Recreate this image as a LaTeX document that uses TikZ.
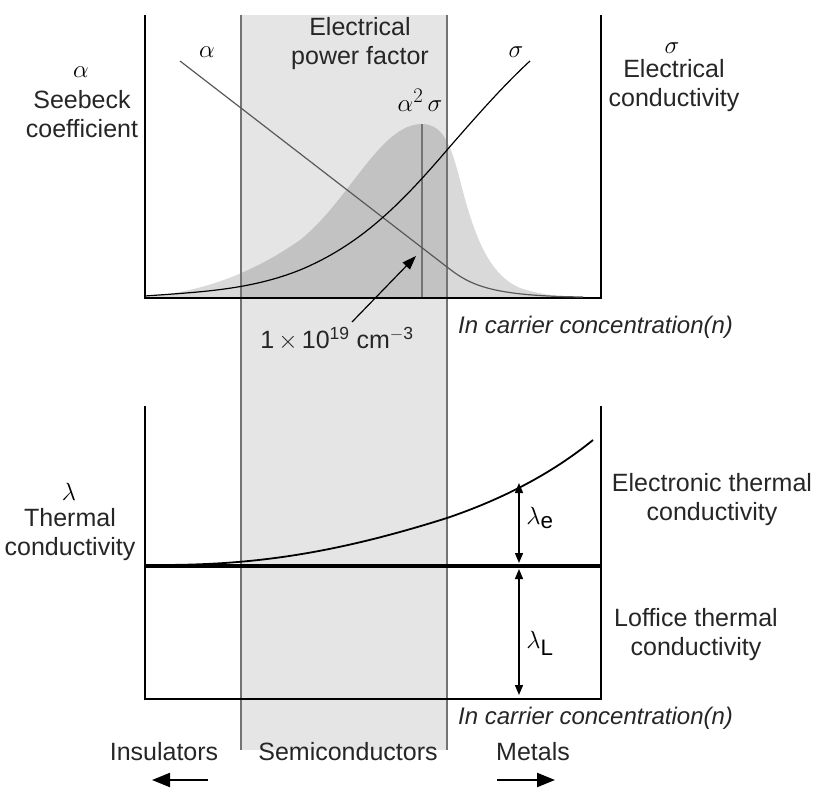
\documentclass[tikz,border=0pt]{standalone}
\usepackage{fontspec}
\setmainfont{Liberation Sans}
\usetikzlibrary{arrows.meta}
\begin{document}
\begin{tikzpicture}[x=1pt,y=-1pt,
  lbl/.style={font=\fontsize{25}{29}\selectfont, text=black!85, inner sep=0pt, align=center},
  gk/.style={font=\fontsize{32}{34}\selectfont, inner sep=0pt},
  axis/.style={line width=1.6pt},
  bandline/.style={draw=black!55, line width=1.4pt},
  bigarr/.style={-{Triangle[length=18pt,width=14pt]}, line width=2.2pt}]
\useasboundingbox (0,0) rectangle (820,800);
% band
\fill[black!10] (241,15) rectangle (447,750);
% peak
\fill[black, opacity=0.15] (145,297) .. controls (200,292) and (250,275) .. (300,240)
  .. controls (350,200) and (380,124) .. (422,124) .. controls (445,124) and (452,150) .. (460,180)
  .. controls (475,240) and (490,275) .. (520,288) .. controls (545,296) and (565,297) .. (590,297) -- cycle;
\draw[bandline] (241,15) -- (241,750) (447,15) -- (447,750);
\draw[black!55, line width=1.4pt] (422,124) -- (422,297);
% top axes
\draw[axis] (145,15) -- (145,298) -- (601,298) -- (601,15);
% alpha
\draw[black!65, line width=1.2pt] (180,61) -- (447,267) .. controls (470,285) and (490,296) .. (583,297);
% sigma
\draw[line width=1.2pt] (145,296) .. controls (200,292) and (250,290) .. (300,270)
  .. controls (360,245) and (400,205) .. (447,150) .. controls (480,112) and (505,84) .. (530,61);
% arrow
\coordinate (aS) at (352,322); \coordinate (aE) at (416,256);
\draw[-{Triangle[length=14pt,width=10pt]}, line width=1.2pt] (aS) -- (aE);
\node[lbl] (ten) at (337,339) {1\,$\times$\,10\textsuperscript{19} cm\textsuperscript{$-$3}};
% top labels
\node[gk] (al) at (207,52) {$\alpha$};
\node[lbl] (epf) at (360,44) {Electrical\\power factor};
\node[gk] (sg) at (516,52) {$\sigma$};
\node[gk] (a2s) at (420,100) {$\alpha^{2}\,\sigma$};
\node[gk] (al2) at (81,72) {$\alpha$};
\node[lbl] (see) at (82,114) {Seebeck\\coefficient};
\node[gk] (sg2) at (672,48) {$\sigma$};
\node[lbl] (ec) at (674,86) {Electrical\\conductivity};
\node[lbl, anchor=west, font=\fontsize{24}{29}\selectfont\itshape] (x1) at (458,327) {In carrier concentration(n)};
% bottom axes
\draw[axis] (145,406) -- (145,699) -- (601,699) -- (601,406);
\draw[line width=3.5pt] (145,566) -- (601,566);
\draw[line width=1.8pt] (160,565) .. controls (250,565) and (330,555) .. (447,518)
  .. controls (500,500) and (550,475) .. (593,440);
\coordinate (e1) at (519,483); \coordinate (e2) at (519,563);
\coordinate (l1) at (519,569); \coordinate (l2) at (519,695);
\draw[{Triangle[length=10pt,width=8pt]}-{Triangle[length=10pt,width=8pt]}, line width=1.4pt] (e1) -- (e2);
\draw[{Triangle[length=10pt,width=8pt]}-{Triangle[length=10pt,width=8pt]}, line width=1.4pt] (l1) -- (l2);
\node[gk] (le) at (540,518) {$\lambda_{\mathrm{e}}$};
\node[gk] (lL) at (540,643) {$\lambda_{\mathrm{L}}$};
\node[gk] (lam) at (69,492) {$\lambda$};
\node[lbl] (tc) at (70,535) {Thermal\\conductivity};
\node[lbl] (etc) at (712,500) {Electronic thermal\\conductivity};
\node[lbl] (ltc) at (696,635) {Loffice thermal\\conductivity};
\node[lbl, anchor=west, font=\fontsize{24}{29}\selectfont\itshape] (x2) at (458,718) {In carrier concentration(n)};
\node[lbl] (ins) at (164,752) {Insulators};
\node[lbl] (sem) at (348,752) {Semiconductors};
\node[lbl] (met) at (533,752) {Metals};
\coordinate (i1) at (208,780); \coordinate (i2) at (152,780);
\coordinate (m1) at (497,780); \coordinate (m2) at (555,780);
\draw[bigarr] (i1) -- (i2);
\draw[bigarr] (m1) -- (m2);
\end{tikzpicture}
\end{document}
